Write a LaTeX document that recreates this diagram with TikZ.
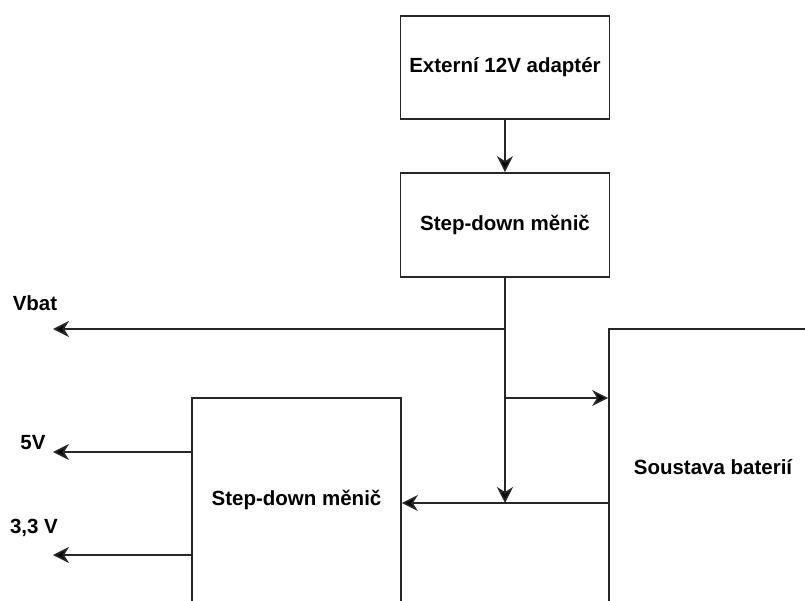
\documentclass[tikz,border=0pt]{standalone}
\usepackage{fontspec}
\setmainfont{Liberation Sans}
\usetikzlibrary{arrows.meta}
\begin{document}
\begin{tikzpicture}[x=1pt,y=-1pt,
  wire/.style={line width=1.7pt,draw=black!85},
  arr/.style={wire,-{Stealth[length=16pt,width=16pt,inset=5pt,fill=black]}},
  blk/.style={draw=black!85,line width=1.7pt,fill=white,inner sep=0pt,font=\bfseries\fontsize{20.5}{24}\selectfont},
  lbl/.style={inner sep=0pt,font=\bfseries\fontsize{20.5}{24}\selectfont}]
\clip (0,0) rectangle (805,601);
\fill[white] (0,0) rectangle (805,601);
\node[blk,minimum width=209pt,minimum height=103pt] (ext) at (505,67.5) {Externí 12V adaptér};
\node[blk,minimum width=209pt,minimum height=104pt] (sd1) at (505,225) {Step-down měnič};
\node[blk,minimum width=208pt,minimum height=276pt] (bat) at (713,467) {Soustava baterií};
\node[blk,minimum width=209pt,minimum height=204pt] (sd2) at (296.5,500) {Step-down měnič};
\coordinate (j1) at (505,329);
\coordinate (j2) at (505,398);
\coordinate (j3) at (505,503);
\coordinate (vb) at (53,329);
\coordinate (v5) at (53,452);
\coordinate (v33) at (53,555);
\draw[arr] (ext.south) -- (sd1.north);
\draw[wire] (sd1.south) -- (j1);
\draw[arr] (sd1.south) -- (j3);
\draw[arr] (j1) -- (vb);
\draw[arr] (j2) -- (bat.west |- j2);
\draw[arr] (bat.west |- j3) -- (sd2.east |- j3);
\draw[arr] (sd2.west |- v5) -- (v5);
\draw[arr] (sd2.west |- v33) -- (v33);
\node[lbl] (lvb) at (35,303) {Vbat};
\node[lbl] (l5) at (33,443) {5V};
\node[lbl] (l33) at (34,528) {3,3 V};
\end{tikzpicture}
\end{document}
